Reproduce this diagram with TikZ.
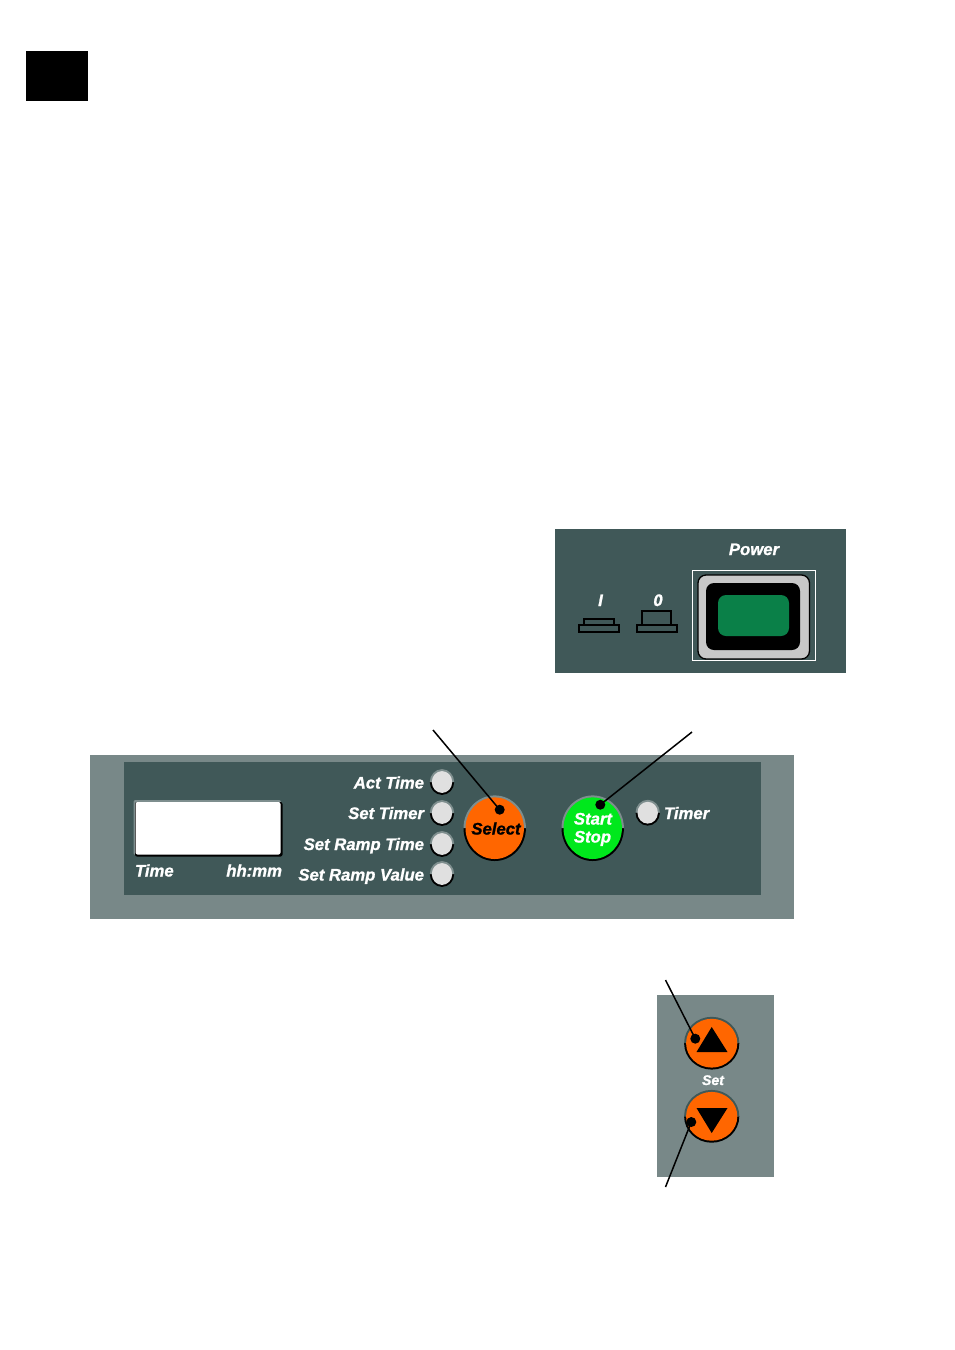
\documentclass[tikz,border=0pt]{standalone}
\usepackage{fontspec}
\setmainfont{Liberation Sans}[BoldItalicFeatures={FakeBold=1.1}]
\definecolor{panelD}{HTML}{405858}
\definecolor{panelL}{HTML}{788888}
\definecolor{ringG}{HTML}{7E8E8E}
\definecolor{ledF}{HTML}{E0E0E0}
\definecolor{orangeB}{HTML}{FF6600}
\definecolor{greenB}{HTML}{00E81C}
\definecolor{greenP}{HTML}{0A8048}
\definecolor{grayP}{HTML}{C8C8C8}
\tikzset{
 lbl/.style={font=\bfseries\itshape\fontsize{#1}{#1}\selectfont,text=white,inner sep=0pt,outer sep=0pt},
 lbl/.default=16.7,
 lead/.style={draw=black,line width=1.5pt},
 dotn/.style={circle,fill=black,minimum size=10pt,inner sep=0pt,outer sep=0pt},
 sw/.style={draw=black,line width=2.1pt,fill=panelD}
}
% y axis points down here, so the arc through 90 degrees is the lower half
\newcommand{\btn}[6]{% x,y,rx,ry,fill,top ring
 \fill[black] (#1-#3-2,#2) arc[start angle=180,end angle=0,x radius=#3+2,y radius=#4+2] -- cycle;
 \fill[#6] (#1-#3-2,#2) arc[start angle=-180,end angle=0,x radius=#3+2,y radius=#4+2] -- cycle;
 \fill[#5] (#1,#2) ellipse[x radius=#3,y radius=#4];
}
\begin{document}
\begin{tikzpicture}[x=1pt,y=-1pt]
\useasboundingbox (0,0) rectangle (954,1350);
\fill[white] (0,0) rectangle (954,1350);
\fill[black] (26,51) rectangle (88,101);
% power panel
\fill[panelD] (555,529) rectangle (846,673);
\node[lbl,anchor=base] (power) at (754,555) {Power};
\node[lbl,anchor=base] (one) at (600.5,606) {I};
\node[lbl,anchor=base] (zero) at (658,606) {0};
\draw[white,line width=0.7pt] (692.4,570.4) rectangle (815,660.7);
\fill[grayP,draw=black,line width=1.3pt,rounded corners=8pt] (698,575) rectangle (809.5,659);
\fill[black,rounded corners=8pt] (706,583) rectangle (800,650);
\fill[greenP,rounded corners=8pt] (718,595) rectangle (789,636);
\draw[sw] (584.3,624.7) -- (584.3,618.7) -- (613.7,618.7) -- (613.7,624.7);
\draw[sw] (579,624.7) rectangle (619,632);
\draw[sw] (642.3,624.7) -- (642.3,611.3) -- (671,611.3) -- (671,624.7);
\draw[sw] (636.8,624.7) rectangle (676.6,632);
% main panel
\fill[panelL] (90,755) rectangle (794,919);
\fill[panelD] (124,762) rectangle (761,895);
\fill[ringG,rounded corners=2pt] (133.5,800) rectangle (281,855);
\fill[black,rounded corners=2pt] (135,802) rectangle (282.5,856.5);
\fill[white,rounded corners=2pt] (135.5,802) rectangle (280.5,854.5);
\node[lbl,anchor=base west] (time) at (135,876.5) {Time};
\node[lbl,anchor=base east] (hhmm) at (282,876.5) {hh:mm};
\node[lbl,anchor=base east] (l1) at (424,788.5) {Act Time};
\node[lbl,anchor=base east] (l2) at (424,819) {Set Timer};
\node[lbl,anchor=base east] (l3) at (424,850) {Set Ramp Time};
\node[lbl,anchor=base east] (l4) at (424,880.5) {Set Ramp Value};
\btn{442}{782}{10.2}{10.9}{ledF}{ringG}
\btn{442}{813}{10.2}{10.9}{ledF}{ringG}
\btn{442}{844}{10.2}{10.9}{ledF}{ringG}
\btn{442}{874}{10.2}{10.9}{ledF}{ringG}
\btn{647.7}{812.7}{10.2}{10.9}{ledF}{ringG}
\node[lbl,anchor=base west] (timer) at (664,819) {Timer};
\btn{494.7}{828.2}{29.2}{30.8}{orangeB}{ringG}
\btn{592.7}{828.2}{29.2}{30.8}{greenB}{ringG}
\node[lbl,anchor=base,text=black] (sel) at (496,834.5) {Select};
\node[lbl,anchor=base] (start) at (593,824.5) {Start};
\node[lbl,anchor=base] (stop) at (592.5,842.5) {Stop};
\node[dotn] (dsel) at (499.7,809.7) {};
\node[dotn] (dsta) at (600.3,804.7) {};
\coordinate (esel) at (433,730);
\coordinate (esta) at (692,732);
\draw[lead] (esel) -- (dsel.center);
\draw[lead] (esta) -- (dsta.center);
% set panel
\fill[panelL] (657,995) rectangle (774,1177);
\btn{711.7}{1043.2}{25.6}{24.4}{orangeB}{panelD}
\btn{711.7}{1116.3}{25.6}{24.4}{orangeB}{panelD}
\node[lbl=14,anchor=base] (set) at (713,1085) {Set};
\fill[black] (711.7,1027) -- (727.5,1052) -- (696.5,1052) -- cycle;
\fill[black] (711.7,1133) -- (727.5,1108) -- (696.5,1108) -- cycle;
\node[dotn] (dup) at (695.3,1038.7) {};
\node[dotn] (ddn) at (691.3,1122) {};
\coordinate (eup) at (665.5,980);
\coordinate (edn) at (665.5,1187);
\draw[lead] (eup) -- (dup.center);
\draw[lead] (edn) -- (ddn.center);
\end{tikzpicture}
\end{document}
